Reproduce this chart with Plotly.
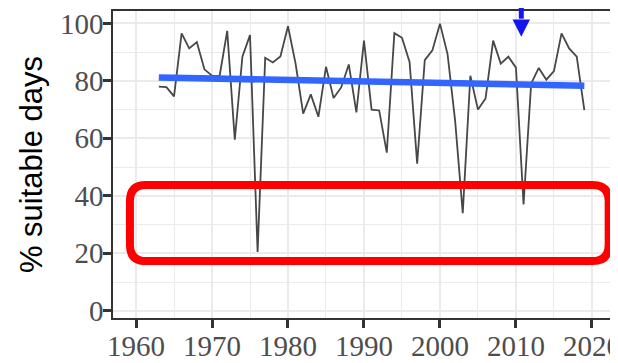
import numpy as np
import plotly.graph_objects as go

years = list(range(1963, 2020))
suitable_pct = [
    78.0, 77.8, 74.6, 96.5, 91.3, 93.5, 84.0, 81.8, 81.7, 97.4,   # 1963-1972
    59.5, 88.4, 95.9, 20.5, 88.0, 86.4, 88.5, 99.0, 86.0, 68.6,   # 1973-1982
    75.3, 67.5, 84.9, 74.0, 77.7, 85.7, 69.0, 94.0, 70.0, 69.7,   # 1983-1992
    55.0, 96.6, 95.0, 86.6, 51.2, 87.2, 90.6, 99.9, 89.3, 66.0,   # 1993-2002
    34.0, 81.8, 70.0, 73.9, 94.0, 86.0, 88.4, 84.6, 37.0, 79.0,   # 2003-2012
    84.5, 80.4, 83.4, 96.5, 91.3, 88.4, 69.8,                     # 2013-2019
]
x_ticks = [1960, 1970, 1980, 1990, 2000, 2010, 2020]
y_ticks = [0, 20, 40, 60, 80, 100]
y_title = "% suitable days"

# linear trend (like geom_smooth(method = "lm"))
slope, intercept = np.polyfit(years, suitable_pct, 1)
trend_x = [years[0], years[-1]]
trend_y = [intercept + slope * v for v in trend_x]

fig = go.Figure()
fig.add_trace(go.Scatter(x=years, y=suitable_pct, mode="lines",
                         line=dict(color="#474747", width=1.8),
                         hoverinfo="skip", showlegend=False))
fig.add_trace(go.Scatter(x=trend_x, y=trend_y, mode="lines",
                         line=dict(color="#3366FF", width=6.5),
                         hoverinfo="skip", showlegend=False))

# highlight rectangle with rounded corners (annotation)
rx0, rx1, ry0, ry1 = 1959.2, 2022.2, 17.3, 43.8
crx, cry = 2.1, 5.6
rect_path = (f"M {rx0+crx},{ry1} L {rx1-crx},{ry1} Q {rx1},{ry1} {rx1},{ry1-cry} "
             f"L {rx1},{ry0+cry} Q {rx1},{ry0} {rx1-crx},{ry0} "
             f"L {rx0+crx},{ry0} Q {rx0},{ry0} {rx0},{ry0+cry} "
             f"L {rx0},{ry1-cry} Q {rx0},{ry1} {rx0+crx},{ry1} Z")
fig.add_shape(type="path", path=rect_path, xref="x", yref="y",
              line=dict(color="#FF0000", width=8), layer="above")

# blue arrow pointing at 2011
ax_year = 2010.7
fig.add_shape(type="line", xref="x", yref="paper", x0=ax_year, x1=ax_year,
              y0=0.975, y1=1.06, line=dict(color="#1515EE", width=5), layer="above")
hw = 1.15
fig.add_shape(type="path", xref="x", yref="paper",
              path=f"M {ax_year-hw},0.972 L {ax_year+hw},0.972 L {ax_year},0.916 Z",
              fillcolor="#1515EE", line=dict(width=0), layer="above")

grid_col = "#EBEBEB"
tick_font = dict(family="Liberation Serif", size=29, color="#4D4D4D")
# page body has an 8px default margin, so the figure is 8px smaller than the window
fig.update_layout(
    width=610, height=355,
    margin=dict(l=105, r=0, t=3, b=45, autoexpand=False),
    paper_bgcolor="white", plot_bgcolor="white",
    xaxis=dict(range=[1956.97, 2023.43], tickmode="array", tickvals=x_ticks,
               ticktext=[str(v) for v in x_ticks], automargin=False,
               ticklabeloverflow="allow", ticklabelstandoff=-7,
               showgrid=True, gridcolor=grid_col, gridwidth=2.4,
               minor=dict(dtick=5, tick0=1965, showgrid=True, gridcolor=grid_col, gridwidth=1.2),
               showline=True, linecolor="#333333", linewidth=1.5, mirror=True,
               ticks="outside", ticklen=8, tickwidth=2.5, tickcolor="#333333",
               tickfont=tick_font, zeroline=False, fixedrange=True),
    yaxis=dict(range=[-2.5, 104.3], tickmode="array", tickvals=y_ticks,
               ticktext=[str(v) for v in y_ticks], automargin=False,
               ticklabeloverflow="allow", ticklabelstandoff=-6,
               showgrid=True, gridcolor=grid_col, gridwidth=2.4,
               minor=dict(dtick=10, tick0=10, showgrid=True, gridcolor=grid_col, gridwidth=1.2),
               showline=True, linecolor="#333333", linewidth=1.5, mirror=False,
               ticks="outside", ticklen=8, tickwidth=2.5, tickcolor="#333333",
               tickfont=tick_font,
               title=dict(text=y_title, font=dict(family="Liberation Sans", size=31, color="black"),
                          standoff=8),
               zeroline=False, fixedrange=True),
)
fig.write_html("out.html")
